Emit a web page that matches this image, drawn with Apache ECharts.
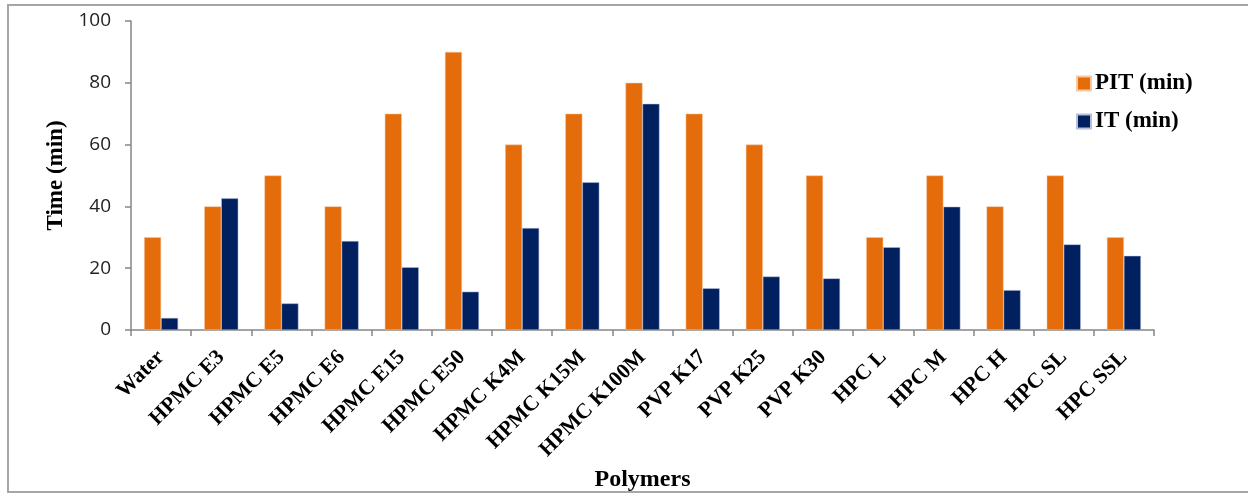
<!DOCTYPE html>
<html>
<head>
<meta charset="utf-8">
<script src="https://cdn.jsdelivr.net/npm/echarts@6/dist/echarts.min.js"></script>
<style>
html,body{margin:0;padding:0;background:#fff;overflow:hidden;}
#frame{position:absolute;left:7px;top:4px;width:1250px;height:489px;border:2px solid #a6a6a6;box-sizing:border-box;}
#chart{position:absolute;left:0;top:0;width:1248px;height:493px;}
</style>
</head>
<body>
<div id="frame"></div>
<div id="chart"></div>
<script>
const categories = ["Water","HPMC E3","HPMC E5","HPMC E6","HPMC E15","HPMC E50","HPMC K4M","HPMC K15M","HPMC K100M","PVP K17","PVP K25","PVP K30","HPC L","HPC M","HPC H","HPC SL","HPC SSL"];
const pitValues = [30,40,50,40,70,90,60,70,80,70,60,50,30,50,40,50,30];
const itValues = [3.9,42.6,8.6,28.8,20.3,12.4,33.0,47.8,73.2,13.5,17.3,16.7,26.8,39.9,12.9,27.7,24.0];
const yTicks = {min:0,max:100,interval:20};

const chart = echarts.init(document.getElementById('chart'), null, {renderer:'canvas'});
const serif = '"Liberation Serif","Times New Roman",serif';
chart.setOption({
  animation:false,
  backgroundColor:'transparent',
  grid:{left:131,right:94,top:21,bottom:163,containLabel:false,outerBoundsMode:'none'},
  legend:{
    orient:'vertical',left:1071,top:67,itemWidth:14,itemHeight:14,itemGap:15,
    icon:'rect',
    textStyle:{fontFamily:serif,fontWeight:'bold',fontSize:23,color:'#000',padding:[0,0,0,-1]},
    data:['PIT (min)','IT (min)']
  },
  xAxis:{
    type:'category',data:categories,
    axisLine:{lineStyle:{color:'#868686',width:1.5}},
    axisTick:{show:true,length:6,lineStyle:{color:'#868686',width:1.5}},
    axisLabel:{rotate:45,interval:0,margin:24,fontFamily:serif,fontWeight:'bold',fontSize:21.5,color:'#000'},
    name:'Polymers',nameLocation:'middle',nameGap:131,
    nameTextStyle:{fontFamily:serif,fontWeight:'bold',fontSize:24,color:'#000'}
  },
  yAxis:{
    type:'value',min:yTicks.min,max:yTicks.max,interval:yTicks.interval,
    splitLine:{show:false},
    axisLine:{show:true,lineStyle:{color:'#868686',width:1.5}},
    axisTick:{show:true,length:6,lineStyle:{color:'#868686',width:1.5}},
    axisLabel:{fontFamily:'"Open Sans","Liberation Sans",sans-serif',fontSize:19,color:'#222',margin:20},
    name:'Time (min)',nameLocation:'middle',nameGap:59,nameRotate:90,
    nameTextStyle:{fontFamily:serif,fontWeight:'bold',fontSize:23,color:'#000'}
  },
  series:[
    {name:'PIT (min)',type:'bar',data:pitValues,barWidth:17,barGap:'0%',itemStyle:{color:'#E46C0A',borderColor:'#f7c9a3',borderWidth:0.5}},
    {name:'IT (min)',type:'bar',data:itValues,barWidth:17,barGap:'0%',itemStyle:{color:'#002060',borderColor:'#b8c0d8',borderWidth:0.5}}
  ]
});
</script>
</body>
</html>
